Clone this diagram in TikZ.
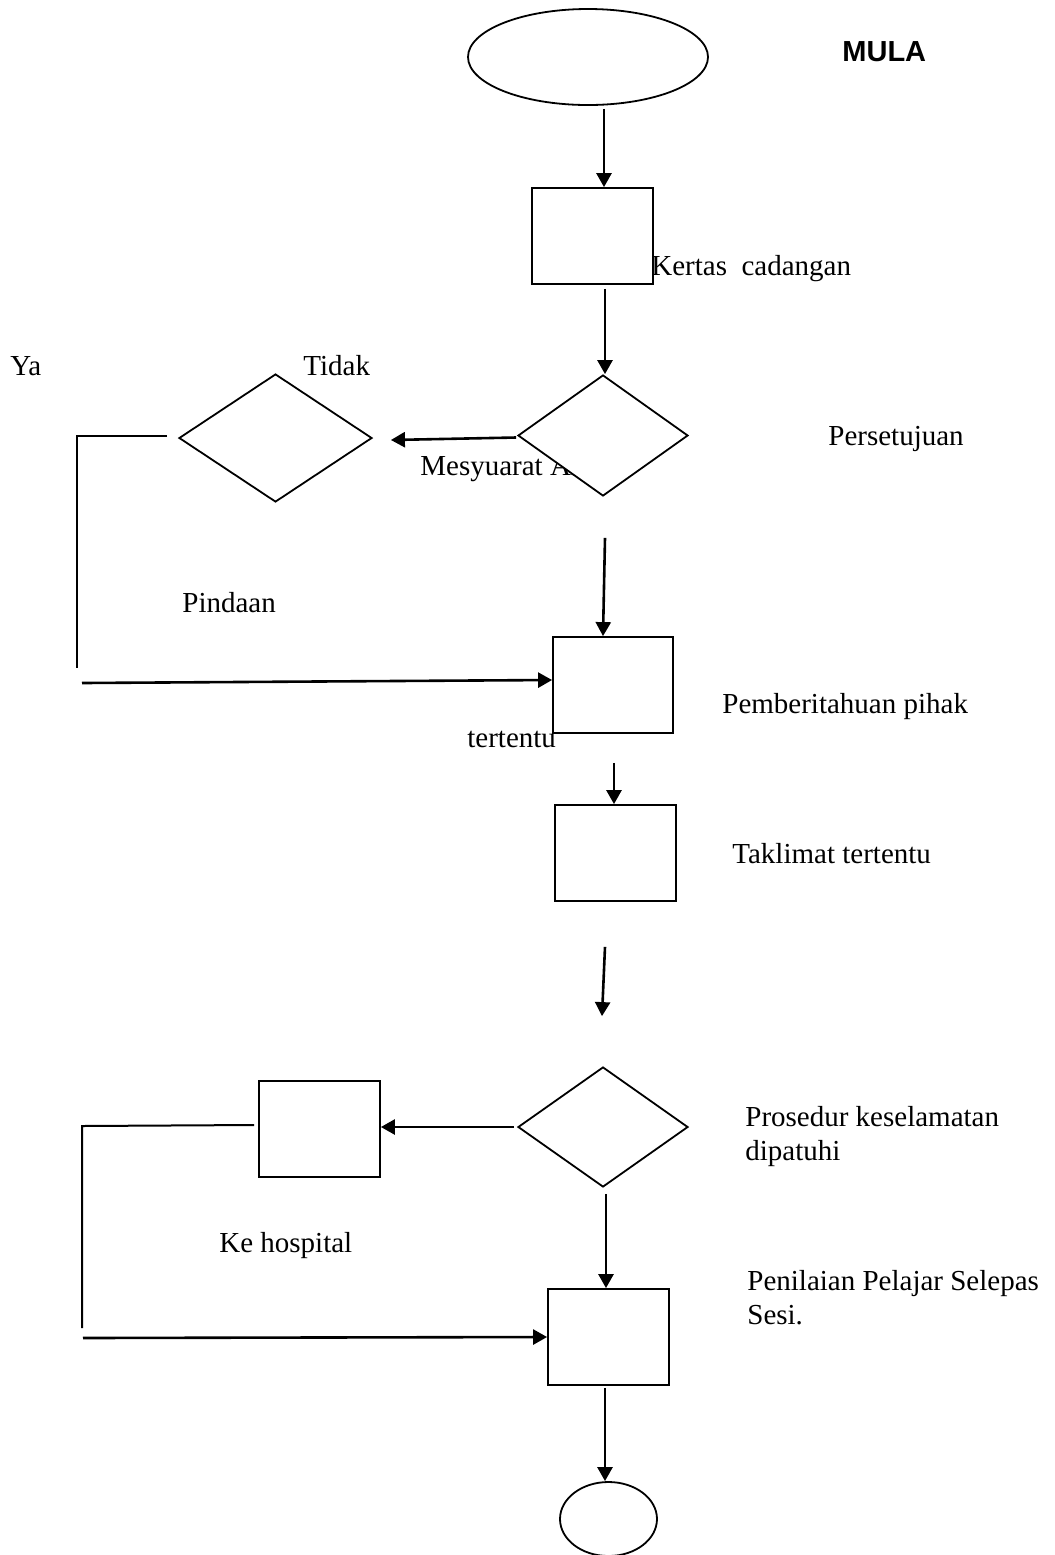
\documentclass[tikz,border=0pt]{standalone}
\usepackage{fontspec}
\setmainfont{Liberation Serif}
\newfontfamily\headfont{Liberation Sans}
\usetikzlibrary{shapes.geometric,arrows.meta}
\begin{document}
\begin{tikzpicture}[x=0.5pt,y=-0.5pt,
  every node/.style={font=\fontsize{14.5}{17}\selectfont},
  box/.style={draw,line width=0.9pt,fill=white,inner sep=0pt,minimum width=60.5pt,minimum height=48pt},
  decision/.style={diamond,draw,line width=0.9pt,fill=white,inner sep=0pt},
  terminal/.style={ellipse,draw,line width=0.9pt,fill=white,inner sep=0pt},
  arr/.style={line width=1.3pt,-{Triangle[length=7pt,width=7.5pt]}},
  plain/.style={line width=1pt},
  lbl/.style={anchor=base west,inner sep=0pt}]
\useasboundingbox (0,0) rectangle (1055,1555);
\clip (0,0) rectangle (1055,1555);

% labels that sit beneath shapes
\node[lbl] (tmesy) at (420,475) {Mesyuarat AJK};

% shapes
\node[terminal,minimum width=120pt,minimum height=48pt] (start) at (588,57) {};
\node[box] (kertas) at (592.5,236) {};
\node[decision,minimum width=85pt,minimum height=60.5pt] (setuju) at (603,435.5) {};
\node[decision,minimum width=96.5pt,minimum height=64pt] (pinda) at (275.5,438) {};
\node[box,minimum width=60pt] (beritahu) at (613,685) {};
\node[box] (taklimat) at (615.5,853) {};
\node[decision,minimum width=85pt,minimum height=60pt] (prosedur) at (603,1127) {};
\node[box] (hospital) at (319.5,1129) {};
\node[box] (nilai) at (608.5,1337) {};
\node[terminal,minimum width=48.5pt,minimum height=37pt] (tamat) at (608.5,1519) {};

% free ends of the return lines
\coordinate (ya1) at (77,436);
\coordinate (ya2) at (77,668);
\coordinate (ya3) at (82,683);
\coordinate (hs1) at (82,1126);
\coordinate (hs2) at (82,1328);
\coordinate (hs3) at (83,1338);

% main flow
\draw[arr] ([xshift=8pt,yshift=-1.5pt]start.south) -- ([xshift=5.75pt]kertas.north);
\draw[arr] ([xshift=6.25pt,yshift=-2pt]kertas.south) -- ([xshift=1pt]setuju.north);
\draw[arr] ([xshift=-0.5pt,yshift=-1pt]setuju.west) -- ([xshift=9pt,yshift=-1pt]pinda.east);
\draw[plain] ([xshift=-5.5pt,yshift=1pt]pinda.west) -- (ya1) -- (ya2);
\draw[arr] (ya3) -- ([yshift=2.5pt]beritahu.west);
\draw[arr] ([xshift=1pt,yshift=-20.5pt]setuju.south) -- ([xshift=-5pt]beritahu.north);
\draw[arr] ([xshift=0.5pt,yshift=-14.5pt]beritahu.south) -- ([xshift=-0.75pt]taklimat.north);
\draw[arr] ([xshift=-5.25pt,yshift=-22.5pt]taklimat.south) -- ([xshift=-0.5pt,yshift=25pt]prosedur.north);
\draw[arr] ([xshift=-1.5pt]prosedur.west) -- ([yshift=1pt]hospital.east);
\draw[plain] ([xshift=-2pt,yshift=2pt]hospital.west) -- (hs1) -- (hs2);
\draw[arr] (hs3) -- (nilai.west);
\draw[arr] ([xshift=1.5pt,yshift=-3pt]prosedur.south) -- ([xshift=-1.25pt]nilai.north);
\draw[arr] ([xshift=-1.75pt,yshift=-1pt]nilai.south) -- ([xshift=-1.75pt]tamat.north);

% labels
\node[lbl,font=\headfont\bfseries\fontsize{14.5}{17}\selectfont] (tmula) at (842,61) {MULA};
\node[lbl] (tkertas) at (651,275) {Kertas\ \ cadangan};
\node[lbl] (tya) at (10,375) {Ya};
\node[lbl] (ttidak) at (303,375) {Tidak};
\node[lbl] (tsetuju) at (828,445) {Persetujuan};
\node[lbl] (tpinda) at (182,612) {Pindaan};
\node[lbl] (tberitahu) at (722,713) {Pemberitahuan pihak};
\node[lbl] (ttertentu) at (467,747) {tertentu};
\node[lbl] (ttaklimat) at (732,863) {Taklimat tertentu};
\node[lbl] (tprosedur) at (745,1126) {Prosedur keselamatan};
\node[lbl] (tpatuh) at (745,1160) {dipatuhi};
\node[lbl] (thospital) at (219,1252) {Ke hospital};
\node[lbl] (tnilai) at (747,1290) {Penilaian Pelajar Selepas};
\node[lbl] (tsesi) at (747,1324) {Sesi.};
\end{tikzpicture}
\end{document}
